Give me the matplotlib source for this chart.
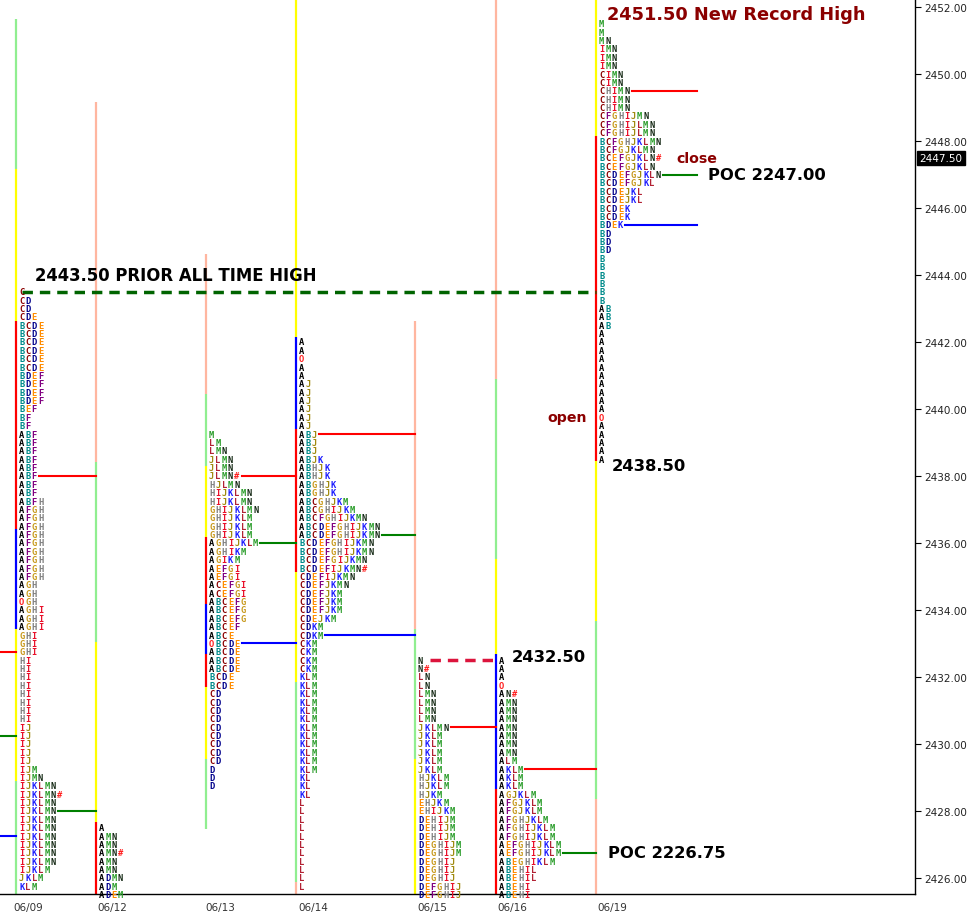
import matplotlib
matplotlib.use("Agg")
import matplotlib.pyplot as plt

W, H = 968, 920
fig = plt.figure(figsize=(W/100, H/100), dpi=100)
ax = fig.add_axes([0, 25/H, 915/W, 895/H])
ax.set_xlim(0, 915)
ax.set_ylim(2425.52, 2452.24)

dates = ["06/09", "06/12", "06/13", "06/14", "06/15", "06/16", "06/19"]
date_label_x = [28, 112, 220, 313, 432, 512, 612]
day_line_x = [16, 96, 206, 296, 415, 496, 596]
top_prices = [2443.5, 2427.5, 2439.25, 2442.0, 2432.5, 2432.5, 2451.5]

p0609 = (["C", "CD", "CD", "CDE"] + ["BCDE"]*6 + ["BDEF"]*4 + ["BEF", "BF", "BF"] + ["ABF"]*8 +
         ["ABFH"] + ["AFGH"]*9 + ["AGH", "AGH", "OGH"] + ["AGHI"]*3 + ["GHI"]*3 + ["HI"]*8 +
         ["IJ"]*5 + ["IJM", "IJMN", "IJKLMN", "IJKLMN#"] + ["IJKLMN"]*8 + ["IJKLM", "JKLM", "KLM"])
p0612 = ["A", "AMN", "AMN", "AMN#", "AMN", "AMN", "ADMN", "ADM", "ADEM"]
p0613 = (["M", "LM", "LMN", "JLMN", "JLMN", "JLMN#", "HJLMN", "HIJKLMN", "HIJKLMN", "GHIJKLMN",
          "GHIJKLM", "GHIJKLM", "GHIJKLM", "AGHIJKLM", "AGHIKM", "AGIKM", "AEFGI", "AEFGI",
          "ACEFGI", "ACEFGI", "ABCEFG", "ABCEFG", "ABCEFG", "ABCEF", "ABCE", "OBCDE",
          "ABCDE", "ABCDE", "ABCDE", "BCDE", "BCDE"] + ["CD"]*9 + ["D"]*3)
p0614 = (["A", "A", "O", "A", "A"] + ["AJ"]*6 + ["ABJ"]*3 + ["ABJK", "ABHJK", "ABHJK", "ABGHJK",
          "ABGHJK", "ABCGHJKM", "ABCGHIJKM", "ABCFGHIJKMN", "ABCDEFGHIJKMN", "ABCDEFGHIJKMN",
          "BCDEFGHIJKMN", "BCDEFGHIJKMN", "BCDEFGIJKMN", "BCDEFIJKMN#", "CDEFIJKMN", "CDEFJKMN",
          "CDEFJKM", "CDEFJKM", "CDEFJKM", "CDEJKM", "CDKM", "CDKM"] + ["CKM"]*4 + ["KLM"]*12 +
         ["KL"]*3 + ["L"]*11)
p0615 = (["N", "N#", "LN", "LN"] + ["LMN"]*4 + ["JKLMN"] + ["JKLM"]*5 + ["HJKLM"]*2 +
         ["HJKM", "EHJKM", "EHIJKM"] + ["DEHIJM"]*3 + ["DEGHIJM"]*2 + ["DEGHIJ"]*3 + ["DEFGHIJ"]*2)
p0616 = (["A", "A", "A", "O", "AN#"] + ["AMN"]*7 + ["ALM"] + ["AKLM"]*3 + ["AGJKLM", "AFGJKLM",
          "AFGJKLM", "AFGHJKLM", "AFGHIJKLM", "AFGHIJKLM", "AEFGHIJKLM", "AEFGHIJKLM",
          "ABEGHIKLM", "ABEHIL", "ABEHIL", "ABEHI", "ABEHI"])
p0619 = (["M", "M", "MN"] + ["IMN"]*3 + ["CIMN"]*2 + ["CHIMN"]*3 + ["CFGHIJMN", "CFGHIJLMN",
          "CFGHIJLMN", "BCFGHJKLMN", "BCFGJKLMN", "BCEFGJKLN#", "BCEFGJKLN", "BCDEFGJKLN",
          "BCDEFGJKL", "BCDEJKL", "BCDEJKL", "BCDEK", "BCDEK", "BDEK"] + ["BD"]*3 + ["B"]*6 +
         ["AB"]*3 + ["A"]*10 + ["O"] + ["A"]*5)
profiles = [p0609, p0612, p0613, p0614, p0615, p0616, p0619]

letter_colors = {"A": "#000000", "B": "#008B8B", "C": "#8B0000", "D": "#00008B", "E": "#FF8C00",
                 "F": "#800080", "G": "#C89A1E", "H": "#7F7F7F", "I": "#E8102A", "J": "#A08A10",
                 "K": "#1E1EFF", "L": "#B22234", "M": "#2E9E2E", "N": "#142814", "O": "#FF2020",
                 "#": "#FF2020"}

GR, YE, RD, BL, SA = "#90EE90", "#FFFF00", "#FF0000", "#0000FF", "#FFB6A0"
seg_px = [
    [(20, 170, GR), (170, 322, YE), (322, 530, RD), (530, 630, BL), (630, 782, YE), (782, 895, GR)],
    [(103, 463, SA), (463, 643, GR), (643, 823, YE), (823, 895, RD)],
    [(255, 395, SA), (395, 467, GR), (467, 538, YE), (538, 605, RD), (605, 655, BL), (655, 688, RD),
     (688, 760, YE), (760, 830, GR)],
    [(0, 338, YE), (338, 430, BL), (430, 573, RD), (573, 683, YE), (683, 883, GR), (883, 895, SA)],
    [(322, 630, SA), (630, 760, GR), (760, 895, YE)],
    [(0, 380, SA), (380, 560, GR), (560, 655, YE), (655, 790, BL), (790, 895, RD)],
    [(0, 137, YE), (137, 462, RD), (462, 622, YE), (622, 800, GR), (800, 895, SA)],
]

def px2price(py):
    return 2452.24 - py / 33.5

for x, segs in zip(day_line_x, seg_px):
    for a, b, c in segs:
        ax.plot([x, x], [px2price(a), px2price(b)], color=c, lw=1.6, solid_capstyle="butt", zorder=2)

CW = 6.3
for x, top, prof in zip(day_line_x, top_prices, profiles):
    for r, row in enumerate(prof):
        price = top - 0.25 * r
        for i, ch in enumerate(row):
            ax.text(x + 3 + i * CW, price, ch, color=letter_colors[ch], fontsize=6.3,
                    family="DejaVu Sans Mono", fontweight="bold", ha="left", va="center", zorder=3)

ref_lines = [(0, 2438.0, RD, 96), (0, 2428.0, "#008000", 96),
             (2, 2438.0, RD, 296), (2, 2436.0, "#008000", 296), (2, 2433.0, BL, 296),
             (3, 2439.25, RD, 415), (3, 2436.25, "#008000", 415), (3, 2433.25, BL, 415),
             (4, 2430.5, RD, 496), (4, 2425.5, "#008000", 496),
             (5, 2429.25, RD, 596), (5, 2426.75, "#008000", 596),
             (6, 2449.5, RD, 697), (6, 2447.0, "#008000", 697), (6, 2445.5, BL, 697)]
for d, price, c, xe in ref_lines:
    prof = profiles[d]
    r = int(round((top_prices[d] - price) / 0.25))
    xs = day_line_x[d] + 3 + len(prof[r]) * CW + 1
    ax.plot([xs, xe], [price, price], color=c, lw=1.5, zorder=2)

for price, c in [(2432.75, RD), (2430.25, "#008000"), (2427.25, BL)]:
    ax.plot([0, 16], [price, price], color=c, lw=1.5)

ax.plot([22, 596], [2443.5, 2443.5], color="#006400", lw=2.5, dashes=(3, 2), zorder=2)
ax.plot([430, 496], [2432.5, 2432.5], color="#DC143C", lw=2.5, dashes=(3, 2), zorder=2)

ax.text(607, px2price(15), "2451.50 New Record High", color="#8B0000", fontsize=12.8,
        fontweight="bold", va="center")
ax.text(676, px2price(159), "close", color="#8B0000", fontsize=10.2, fontweight="bold", va="center")
ax.text(708, px2price(176), "POC 2247.00", color="black", fontsize=11.8, fontweight="bold", va="center")
ax.text(35, px2price(276), "2443.50 PRIOR ALL TIME HIGH", color="black", fontsize=11.9,
        fontweight="bold", va="center")
ax.text(547, px2price(418), "open", color="#8B0000", fontsize=10.2, fontweight="bold", va="center")
ax.text(612, px2price(467), "2438.50", color="black", fontsize=11.8, fontweight="bold", va="center")
ax.text(512, px2price(658), "2432.50", color="black", fontsize=11.8, fontweight="bold", va="center")
ax.text(608, px2price(854), "POC 2226.75", color="black", fontsize=11.8, fontweight="bold", va="center")

yt = [2426 + 2 * i for i in range(14)]
ax.yaxis.tick_right()
ax.set_yticks(yt)
ax.set_yticklabels([f"{v:.2f}" for v in yt], fontsize=7.5, color="#222222")
ax.tick_params(axis="y", length=4, width=0.8, pad=3)
ax.set_xticks(date_label_x)
ax.set_xticklabels(dates, fontsize=7.5, color="#333333")
ax.tick_params(axis="x", length=0, pad=6)
for s in ["top", "left"]:
    ax.spines[s].set_visible(False)
ax.spines["right"].set_linewidth(1.0)
ax.spines["bottom"].set_linewidth(1.0)

ax.text(1.005, 2447.5, "2447.50", transform=ax.get_yaxis_transform(), fontsize=7.5, color="white",
        va="center", ha="left", bbox=dict(boxstyle="square,pad=0.2", fc="black", ec="black"),
        clip_on=False)

fig.savefig("out.png", dpi=100)
